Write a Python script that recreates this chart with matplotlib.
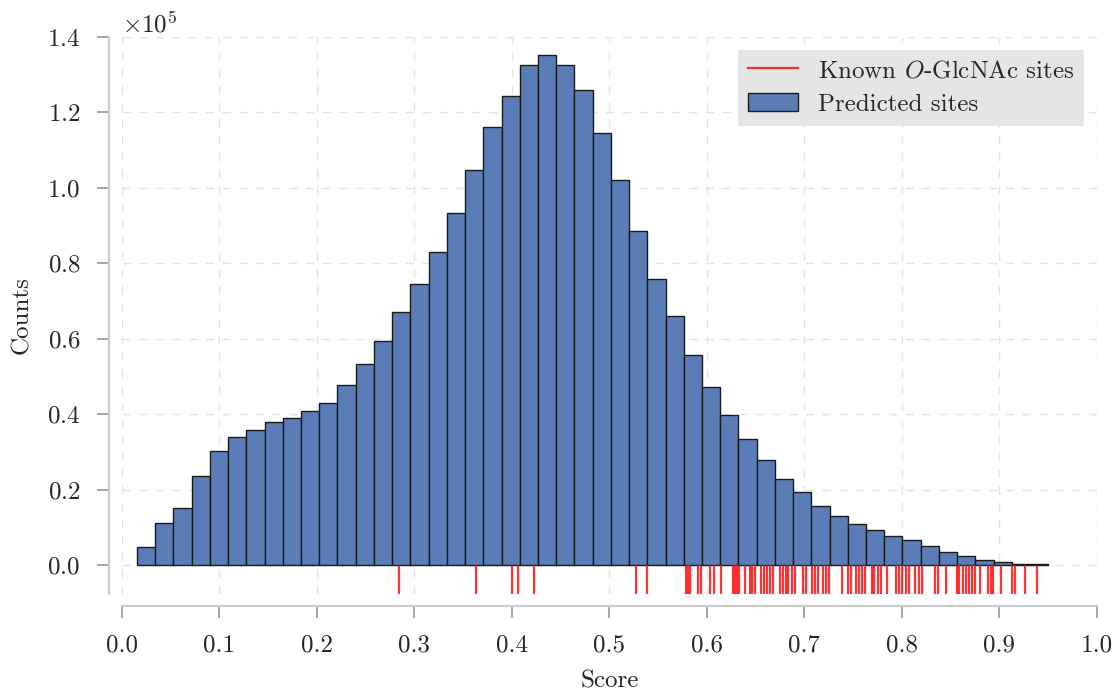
import numpy as np
import matplotlib
matplotlib.use("Agg")
import matplotlib.pyplot as plt
from matplotlib.lines import Line2D
from matplotlib.patches import Patch

plt.rcParams.update({
    "font.family": "cmr10",
    "mathtext.fontset": "cm",
    "axes.unicode_minus": False,
    "axes.formatter.use_mathtext": True,
    "font.size": 18,
    "text.color": "#262626",
    "axes.labelcolor": "#262626",
    "xtick.color": "#8c8c8c",
    "ytick.color": "#8c8c8c",
    "xtick.labelcolor": "#262626",
    "ytick.labelcolor": "#262626",
})

# Histogram of predicted scores (50 equal-width bins)
score_min = 0.0154
score_max = 0.9501
predicted_counts = [
    4800, 11100, 15100, 23600, 30200, 33900, 35700, 37800, 38900, 40700,
    42900, 47600, 53200, 59500, 67200, 74600, 83100, 93400, 104800, 116200,
    124400, 132600, 135200, 132600, 126000, 114600, 102100, 88600, 75900, 65900,
    55600, 47100, 39700, 33300, 27800, 22800, 19300, 15600, 13000, 10800,
    9300, 7700, 6600, 5000, 3400, 2500, 1400, 650, 350, 150,
]

# Scores of the known O-GlcNAc sites
known_sites = [
    0.284, 0.363, 0.400, 0.406, 0.423, 0.527, 0.538,
    0.578, 0.581, 0.583, 0.591, 0.594, 0.603, 0.607, 0.614,
    0.627, 0.629, 0.631, 0.633, 0.639, 0.644, 0.646, 0.649,
    0.655, 0.658, 0.662, 0.665, 0.668, 0.675, 0.678, 0.681, 0.683,
    0.687, 0.690, 0.698, 0.702, 0.708, 0.711, 0.714, 0.719, 0.722, 0.725,
    0.738, 0.745, 0.748, 0.753, 0.756, 0.759, 0.762, 0.769, 0.771,
    0.775, 0.779, 0.785, 0.794, 0.797,
    0.800, 0.804, 0.807, 0.813, 0.817, 0.821, 0.834, 0.837, 0.845,
    0.856, 0.859, 0.863, 0.866, 0.869, 0.872, 0.875, 0.880,
    0.888, 0.891, 0.893, 0.902, 0.913, 0.916, 0.926, 0.939,
]

x_ticks = [0.0, 0.1, 0.2, 0.3, 0.4, 0.5, 0.6, 0.7, 0.8, 0.9, 1.0]
y_ticks = [0, 20000, 40000, 60000, 80000, 100000, 120000, 140000]
rug_floor = -7700

edges = np.linspace(score_min, score_max, len(predicted_counts) + 1)

fig = plt.figure(figsize=(11.19, 6.93), dpi=100)
ax = fig.add_axes([0.109, 0.1429, 0.8713, 0.8037])

ax.bar(edges[:-1], predicted_counts, width=np.diff(edges), align="edge",
       color="#5a7db8", edgecolor="#1a1a1a", linewidth=1.0, zorder=2)
ax.vlines(known_sites, rug_floor, 0, color="#ff0000", alpha=0.8,
          linewidth=1.6, zorder=2)

ax.set_xlim(0, 1.0)
ax.set_ylim(rug_floor, 140000)
ax.set_xticks(x_ticks)
ax.set_xticklabels([f"{t:.1f}" for t in x_ticks])
ax.set_yticks(y_ticks)
ax.ticklabel_format(style="sci", axis="y", scilimits=(0, 0), useMathText=True)

ax.grid(True, color="#e3e3e3", linestyle=(0, (6, 6)), linewidth=1.0, zorder=0)
ax.set_axisbelow(True)

for side in ("top", "right"):
    ax.spines[side].set_visible(False)
for side in ("left", "bottom"):
    ax.spines[side].set_color("#cccccc")
    ax.spines[side].set_linewidth(1.6)
ax.spines["left"].set_position(("outward", 9.5))
ax.spines["bottom"].set_position(("outward", 8.5))
ax.spines["bottom"].set_bounds(0, 1.0)

ax.tick_params(axis="both", direction="out", length=8.5, width=1.1,
               pad=12, labelsize=18)

ax.set_xlabel("Score", fontsize=18, labelpad=10)
ax.set_ylabel("Counts", fontsize=18, labelpad=10)
ax.yaxis.get_offset_text().set_fontsize(18)

handles = [
    Line2D([0], [0], color="#ff0000", alpha=0.8, linewidth=1.6),
    Patch(facecolor="#5a7db8", edgecolor="#1a1a1a", linewidth=1.0),
]
labels = [r"Known $O$-GlcNAc sites", "Predicted sites"]
leg = ax.legend(handles, labels, loc="upper right", fontsize=18,
                frameon=True, fancybox=False, framealpha=1.0,
                handlelength=2.0, labelspacing=0.45, borderaxespad=0.5)
leg.get_frame().set_facecolor("#e5e5e5")
leg.get_frame().set_edgecolor("none")

fig.savefig("out.png", dpi=100)
